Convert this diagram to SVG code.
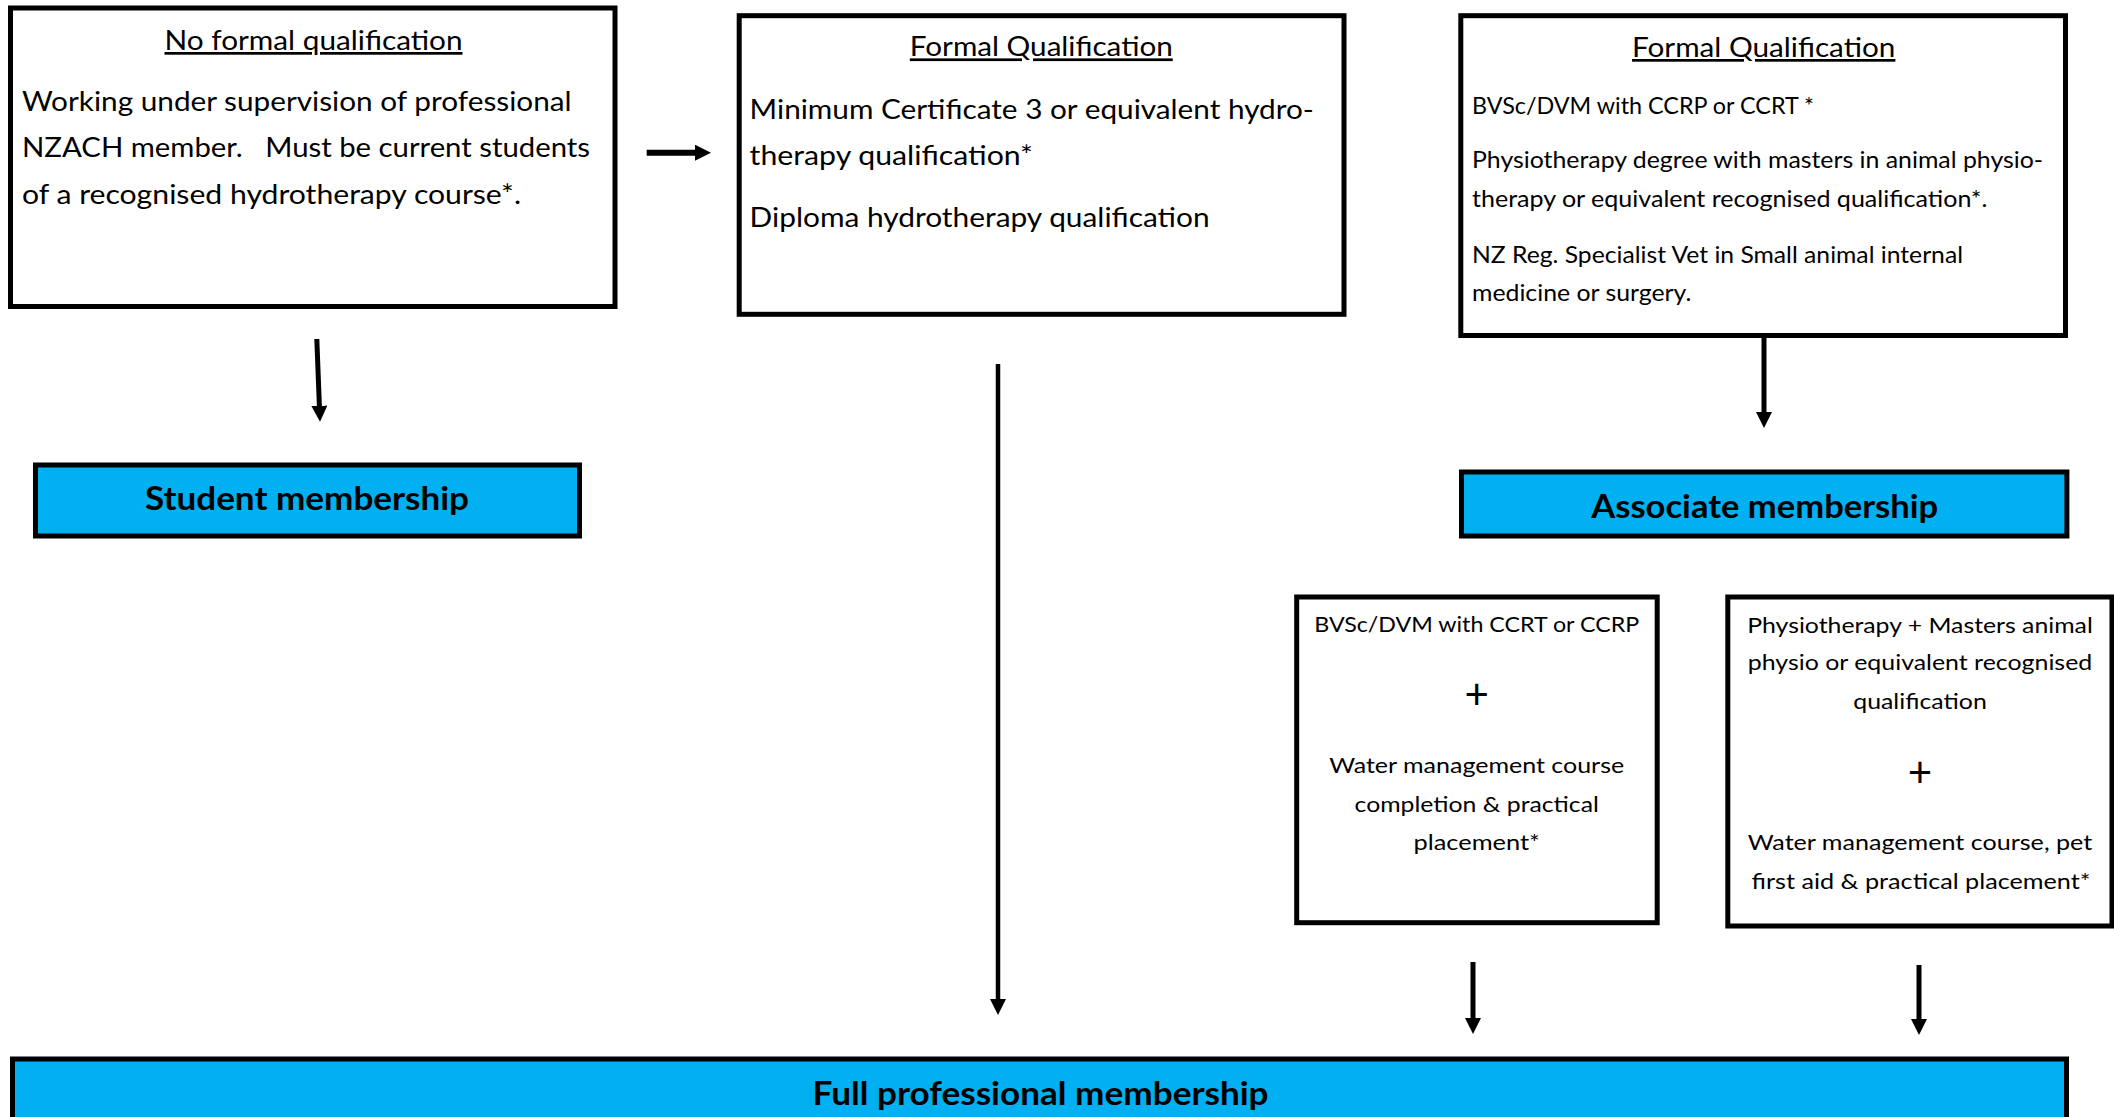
<svg xmlns="http://www.w3.org/2000/svg" width="2114" height="1117" viewBox="0 0 2114 1117">
<style>
  text { font-family: Lato, "Open Sans", "Liberation Sans", sans-serif; fill: #000; }
  .box { fill: #fff; stroke: #000; stroke-width: 5; }
  .mem { fill: #00B0F0; stroke: #000; stroke-width: 5; }
  .t27 { font-size: 27px; }
  .t23 { font-size: 23px; }
  .t22 { font-size: 21.5px; }
  .hd { font-size: 27px; text-anchor: middle; text-decoration: underline; }
  .c { text-anchor: middle; }
  .plus { font-size: 42px; text-anchor: middle; }
  .bold { font-size: 32px; font-weight: bold; text-anchor: middle; }
  .conn { stroke: #000; fill: none; }
</style>
<defs>
  <marker id="ah" viewBox="0 0 16 16" refX="3" refY="8" markerUnits="userSpaceOnUse" markerWidth="16" markerHeight="16" orient="auto">
    <path d="M0,0 L16,8 L0,16 Z" fill="#000"/>
  </marker>
</defs>
<rect width="2114" height="1117" fill="#fff"/>

<g id="no-formal">
  <rect class="box" x="10.5" y="8" width="604.5" height="298.5"/>
  <text class="hd" x="313.5" y="50" textLength="298" lengthAdjust="spacingAndGlyphs">No formal qualification</text>
  <text class="t27" x="22" y="110.5" textLength="549.6" lengthAdjust="spacingAndGlyphs">Working under supervision of professional</text>
  <text class="t27" x="22" y="157" textLength="568" lengthAdjust="spacingAndGlyphs" xml:space="preserve">NZACH member.   Must be current students</text>
  <text class="t27" x="22" y="204" textLength="499" lengthAdjust="spacingAndGlyphs">of a recognised hydrotherapy course*.</text>
</g>

<g id="formal-cert">
  <rect class="box" x="739.2" y="15.7" width="604.8" height="298.6"/>
  <text class="hd" x="1041.3" y="56.4" textLength="263" lengthAdjust="spacingAndGlyphs">Formal Qualification</text>
  <text class="t27" x="749.6" y="119" textLength="564.3" lengthAdjust="spacingAndGlyphs">Minimum Certificate 3 or equivalent hydro-</text>
  <text class="t27" x="749.6" y="165.4" textLength="283.3" lengthAdjust="spacingAndGlyphs">therapy qualification*</text>
  <text class="t27" x="749.6" y="226.8" textLength="460" lengthAdjust="spacingAndGlyphs">Diploma hydrotherapy qualification</text>
</g>

<g id="formal-vet">
  <rect class="box" x="1460.8" y="15.7" width="604.7" height="319.8"/>
  <text class="hd" x="1763.7" y="57" textLength="263.4" lengthAdjust="spacingAndGlyphs">Formal Qualification</text>
  <text class="t23" x="1472" y="113.6" textLength="342" lengthAdjust="spacingAndGlyphs">BVSc/DVM with CCRP or CCRT *</text>
  <text class="t23" x="1472" y="168" textLength="571" lengthAdjust="spacingAndGlyphs">Physiotherapy degree with masters in animal physio-</text>
  <text class="t23" x="1472" y="207" textLength="515.4" lengthAdjust="spacingAndGlyphs">therapy or equivalent recognised qualification*.</text>
  <text class="t23" x="1472" y="262.5" textLength="491" lengthAdjust="spacingAndGlyphs">NZ Reg. Specialist Vet in Small animal internal</text>
  <text class="t23" x="1472" y="300.7" textLength="219.4" lengthAdjust="spacingAndGlyphs">medicine or surgery.</text>
</g>

<g id="student">
  <rect class="mem" x="35.5" y="465" width="544" height="71"/>
  <text class="bold" x="307" y="510" textLength="324" lengthAdjust="spacingAndGlyphs">Student membership</text>
</g>

<g id="associate">
  <rect class="mem" x="1461.5" y="472" width="605.4" height="64"/>
  <text class="bold" x="1764.7" y="518" textLength="347" lengthAdjust="spacingAndGlyphs">Associate membership</text>
</g>

<g id="vet-path">
  <rect class="box" x="1296.7" y="597" width="360.5" height="325.7"/>
  <text class="t22 c" x="1476.7" y="632" textLength="325" lengthAdjust="spacingAndGlyphs">BVSc/DVM with CCRT or CCRP</text>
  <text class="plus" x="1476.7" y="709">+</text>
  <text class="t22 c" x="1476.7" y="773" textLength="295" lengthAdjust="spacingAndGlyphs">Water management course</text>
  <text class="t22 c" x="1476.7" y="811.5" textLength="244.3" lengthAdjust="spacingAndGlyphs">completion &amp; practical</text>
  <text class="t22 c" x="1476.7" y="849.5" textLength="126.5" lengthAdjust="spacingAndGlyphs">placement*</text>
</g>

<g id="physio-path">
  <rect class="box" x="1727.8" y="597" width="384.2" height="329"/>
  <text class="t22 c" x="1920" y="632.8" textLength="345.5" lengthAdjust="spacingAndGlyphs">Physiotherapy + Masters animal</text>
  <text class="t22 c" x="1920" y="670" textLength="344.5" lengthAdjust="spacingAndGlyphs">physio or equivalent recognised</text>
  <text class="t22 c" x="1920" y="709" textLength="133.5" lengthAdjust="spacingAndGlyphs">qualification</text>
  <text class="plus" x="1920" y="787">+</text>
  <text class="t22 c" x="1920" y="849.5" textLength="344.5" lengthAdjust="spacingAndGlyphs">Water management course, pet</text>
  <text class="t22 c" x="1921" y="888.6" textLength="339" lengthAdjust="spacingAndGlyphs">first aid &amp; practical placement*</text>
</g>

<g id="full">
  <rect class="mem" x="12.5" y="1059" width="2054" height="80"/>
  <text class="bold" x="1040.6" y="1105" textLength="456" lengthAdjust="spacingAndGlyphs">Full professional membership</text>
</g>

<g id="connectors">
  <line class="conn" x1="646.7" y1="152.7" x2="698" y2="152.7" stroke-width="6" marker-end="url(#ah)"/>
  <line class="conn" x1="316.8" y1="339" x2="319.5" y2="408.7" stroke-width="5" marker-end="url(#ah)"/>
  <line class="conn" x1="998" y1="364" x2="998" y2="1002" stroke-width="4.5" marker-end="url(#ah)"/>
  <line class="conn" x1="1764" y1="338" x2="1764" y2="415" stroke-width="5" marker-end="url(#ah)"/>
  <line class="conn" x1="1473" y1="962" x2="1473" y2="1021" stroke-width="5" marker-end="url(#ah)"/>
  <line class="conn" x1="1919" y1="965" x2="1919" y2="1022" stroke-width="5" marker-end="url(#ah)"/>
</g>
</svg>
